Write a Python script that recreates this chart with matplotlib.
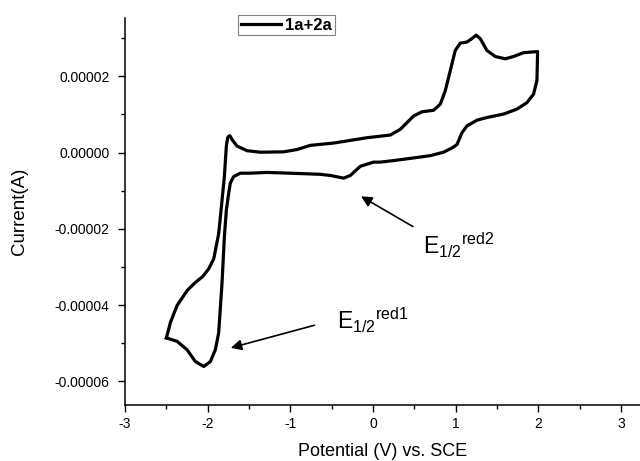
import matplotlib
matplotlib.use("Agg")
import matplotlib.pyplot as plt
from matplotlib.ticker import MultipleLocator, FuncFormatter

plt.rcParams['font.family'] = ['Liberation Sans', 'DejaVu Sans']
plt.rcParams['mathtext.fontset'] = 'custom'
plt.rcParams['mathtext.rm'] = 'Liberation Sans'
plt.rcParams['mathtext.it'] = 'Liberation Sans:italic'

# cyclic voltammogram (V vs SCE, current in 1e-5 A)
potential = [-2.499, -2.451, -2.370, -2.249, -2.146, -2.060, -1.988, -1.927, -1.867,
             -1.838, -1.798, -1.774, -1.758, -1.746, -1.730, -1.705, -1.644, -1.524,
             -1.363, -1.081, -0.919, -0.758, -0.476, -0.073, 0.209, 0.330, 0.491,
             0.593, 0.733, 0.814, 0.874, 0.935, 0.995, 1.056, 1.137, 1.197, 1.249,
             1.297, 1.378, 1.479, 1.600, 1.700, 1.821, 1.990,
             1.990, 1.983, 1.942, 1.862, 1.741, 1.579, 1.378, 1.258, 1.137, 1.076,
             1.016, 0.955, 0.854, 0.693, 0.491, 0.249, 0.088, 0.007, -0.154, -0.274,
             -0.356, -0.516, -0.637, -0.879, -1.282, -1.484, -1.605, -1.686, -1.726,
             -1.746, -1.774, -1.798, -1.826, -1.867, -1.907, -1.967, -2.048, -2.149,
             -2.249, -2.370, -2.499]
current_e5 = [-4.86, -4.46, -4.01, -3.62, -3.40, -3.25, -3.05, -2.79, -2.13,
              -1.51, -0.63, 0.17, 0.39, 0.43, 0.44, 0.34, 0.17, 0.05,
              0.01, 0.02, 0.08, 0.19, 0.25, 0.39, 0.46, 0.61, 0.96,
              1.07, 1.11, 1.27, 1.62, 2.15, 2.68, 2.87, 2.90, 2.99, 3.08,
              2.99, 2.68, 2.52, 2.46, 2.52, 2.62, 2.65,
              2.50, 1.89, 1.53, 1.31, 1.14, 1.01, 0.92, 0.85, 0.70, 0.52,
              0.21, 0.12, 0.01, -0.08, -0.14, -0.21, -0.25, -0.25, -0.36, -0.60,
              -0.67, -0.60, -0.57, -0.55, -0.52, -0.54, -0.54, -0.63, -0.80,
              -1.07, -1.51, -2.21, -3.41, -4.73, -5.17, -5.48, -5.61, -5.48,
              -5.17, -4.95, -4.86]
current = [c * 1e-5 for c in current_e5]

label1 = r'E$_{\mathrm{1/2}}{}^{\mathrm{red1}}$'
label2 = r'E$_{\mathrm{1/2}}{}^{\mathrm{red2}}$'

fig = plt.figure(figsize=(6.4, 4.61), dpi=100)
ax = fig.add_axes([125/640, 1-405/461, 515/640, (405-18)/461])

ax.plot(potential, current, color='black', lw=2.3, label='1a+2a')

ax.set_xlim(-3, 3.23)
ax.set_ylim(-6.62e-5, 3.53e-5)
ax.xaxis.set_major_locator(MultipleLocator(1))
ax.xaxis.set_minor_locator(MultipleLocator(0.5))
ax.yaxis.set_major_locator(MultipleLocator(2e-5))
ax.yaxis.set_minor_locator(MultipleLocator(1e-5))
ax.yaxis.set_major_formatter(FuncFormatter(lambda v, p: '%.5f' % v if abs(v) > 1e-12 else '0.00000'))
ax.xaxis.set_major_formatter(FuncFormatter(lambda v, p: '%d' % round(v)))

ax.spines['top'].set_visible(False)
ax.spines['right'].set_visible(False)
for s in ['left', 'bottom']:
    ax.spines[s].set_linewidth(1.1)
ax.tick_params(which='major', direction='out', length=5, width=1, labelsize=10)
ax.tick_params(axis='y', which='major', pad=6)
ax.tick_params(which='minor', direction='out', length=3, width=1)

ax.set_xlabel('Potential (V) vs. SCE', fontsize=13)
ax.set_ylabel('Current(A)', fontsize=13.5)
ax.xaxis.set_label_coords(0.5, -0.098)
ax.yaxis.set_label_coords(-0.204, 0.5)
ax.yaxis.label.set_va('center')

ax.annotate('', xy=(-1.753, -5.14e-5), xytext=(-0.677, -4.51e-5),
            arrowprops=dict(arrowstyle='-|>', color='black', lw=1.2, mutation_scale=16))
ax.annotate('', xy=(-0.174, -1.111e-5), xytext=(0.511, -1.976e-5),
            arrowprops=dict(arrowstyle='-|>', color='black', lw=1.2, mutation_scale=16))
ax.text(-0.44, -4.62e-5, label1, fontsize=16.5, ha='left', va='baseline')
ax.text(0.60, -2.656e-5, label2, fontsize=16.5, ha='left', va='baseline')

leg = ax.legend(loc='upper left', bbox_to_anchor=(238/640, 1-15/461),
                bbox_transform=fig.transFigure, borderaxespad=0, fancybox=False,
                framealpha=1, edgecolor='gray', handlelength=2.4, handletextpad=0.3,
                borderpad=0.15, prop={'weight': 'bold', 'size': 12})
leg.get_frame().set_linewidth(0.8)

fig.savefig('out.png', dpi=100)
